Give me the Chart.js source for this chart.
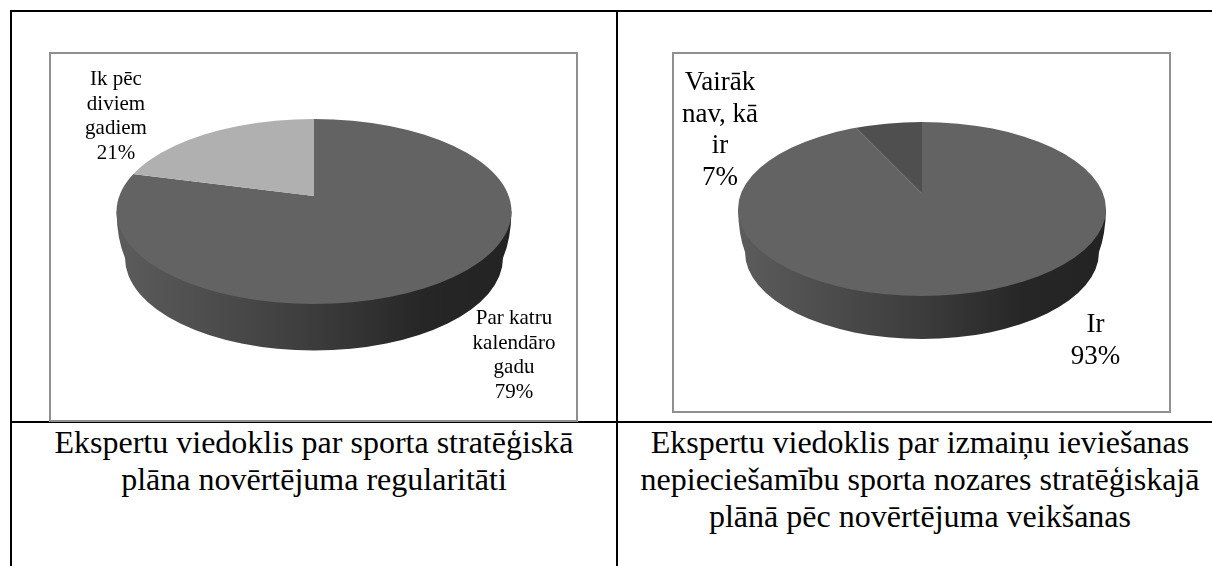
<!DOCTYPE html>
<html><head><meta charset="utf-8">
<script src="https://cdn.jsdelivr.net/npm/chart.js@4/dist/chart.umd.min.js"></script>
<style>
html,body{margin:0;padding:0;background:#fff;width:1212px;height:566px;overflow:hidden}
.line{position:absolute;background:#000}
.frame{position:absolute;box-sizing:border-box;border:2px solid #8f8f8f;background:#fff}
canvas{position:absolute;left:0;top:0}
.cap{position:absolute;text-align:center;font-family:"Liberation Serif",serif;font-size:32px;line-height:37px;color:#000;white-space:nowrap}
</style></head><body>
<div class="line" style="left:10px;top:10px;width:1202px;height:2px"></div>
<div class="line" style="left:10px;top:10px;width:2px;height:556px"></div>
<div class="line" style="left:616px;top:10px;width:2px;height:556px"></div>
<div class="line" style="left:10px;top:421px;width:1202px;height:2px"></div>
<div class="frame" id="f1" style="left:49px;top:52px;width:529px;height:370px"><canvas id="c1"></canvas></div>
<div class="frame" id="f2" style="left:672px;top:52px;width:499px;height:361px"><canvas id="c2"></canvas></div>
<div class="cap" id="t1" style="left:12px;width:604px;top:424px"></div>
<div class="cap" id="t2" style="left:618px;width:604px;top:424px"></div>
<script>
const categoriesA = ["Par katru\nkalendāro\ngadu", "Ik pēc\ndiviem\ngadiem"];
const valuesA = [79, 21];
const coloursA = ["#636363", "#b0b0b0"];
const captionA = ["Ekspertu viedoklis par sporta stratēģiskā", "plāna novērtējuma regularitāti"];

const categoriesB = ["Ir", "Vairāk\nnav, kā\nir"];
const valuesB = [93, 7];
const coloursB = ["#636363", "#4f4f4f"];
const captionB = ["Ekspertu viedoklis par izmaiņu ieviešanas", "nepieciešamību sporta nozares stratēģiskajā", "plānā pēc novērtējuma veikšanas"];

// Tilted-disc plugin: squashes the library's own arcs and adds the side wall.
const tilt = {
  id: 'tilt',
  beforeDatasetsDraw(chart, args, o) {
    const arc = chart.getDatasetMeta(0).data[0];
    const ctx = chart.ctx, ax = arc.x, ay = arc.y, cy = ay + o.dy;
    const g = ctx.createLinearGradient(ax - o.rx, 0, ax + o.rx, 0);
    g.addColorStop(0, '#5c5c5c');
    g.addColorStop(0.5, '#3c3c3c');
    g.addColorStop(0.78, '#262626');
    g.addColorStop(1, '#232323');
    ctx.save();
    ctx.fillStyle = g;
    ctx.beginPath();
    ctx.ellipse(ax, cy + o.depth, o.rxb, o.ryb, 0, 0, Math.PI);
    ctx.quadraticCurveTo(ax - o.rx + 0.5, cy + o.depth * 0.6, ax - o.rx, cy);
    ctx.lineTo(ax + o.rx, cy);
    ctx.quadraticCurveTo(ax + o.rx - 0.5, cy + o.depth * 0.6, ax + o.rxb, cy + o.depth);
    ctx.closePath();
    ctx.fill();
    ctx.restore();
    ctx.save();
    ctx.beginPath();
    ctx.ellipse(ax, cy, o.rx, o.ry, 0, 0, Math.PI * 2);
    ctx.clip();
    ctx.translate(ax, ay);
    ctx.scale(1, o.k);
    ctx.translate(-ax, -ay);
  },
  afterDatasetsDraw(chart, args, o) {
    const ctx = chart.ctx;
    ctx.restore();
    const vals = chart.data.datasets[0].data;
    const total = vals.reduce((a, b) => a + b, 0);
    ctx.save();
    ctx.fillStyle = '#000';
    ctx.font = o.font + 'px "Liberation Serif", serif';
    ctx.textAlign = 'center';
    ctx.textBaseline = 'alphabetic';
    chart.data.labels.forEach((lab, i) => {
      const lines = lab.split('\n').concat(Math.round(vals[i] / total * 100) + '%');
      lines.forEach((ln, j) => ctx.fillText(ln, o.labels[i].x, o.labels[i].y + j * o.lh));
    });
    ctx.restore();
  }
};

function make(id, frame, labels, values, colours, apexX, apexY, opts) {
  const f = document.getElementById(frame);
  const W = f.clientWidth, H = f.clientHeight;
  const c = document.getElementById(id);
  c.style.width = W + 'px'; c.style.height = H + 'px';
  c.width = W; c.height = H;
  const pad = {left: Math.max(0, 2 * apexX - W), right: Math.max(0, W - 2 * apexX),
               top: Math.max(0, 2 * apexY - H), bottom: Math.max(0, H - 2 * apexY)};
  new Chart(c, {
    type: 'pie',
    data: {labels, datasets: [{data: values, backgroundColor: colours, borderWidth: 0, clip: false}]},
    options: {
      responsive: false, animation: false, radius: 420,
      layout: {padding: pad},
      plugins: {legend: {display: false}, tooltip: {enabled: false}, tilt: opts}
    },
    plugins: [tilt]
  });
}

make('c1', 'f1', categoriesA, valuesA, coloursA, 263, 142, {
  k: 0.47, dy: 15.5, rx: 197.5, ry: 92.5, depth: 46.5, rxb: 189, ryb: 92.5, font: 21, lh: 24.7,
  labels: [{x: 463, y: 270}, {x: 65, y: 31}]
});
make('c2', 'f2', categoriesB, valuesB, coloursB, 248, 139.5, {
  k: 0.47, dy: 15.5, rx: 184, ry: 87, depth: 43, rxb: 177, ryb: 87, font: 27, lh: 31.5,
  labels: [{x: 421.5, y: 278}, {x: 46, y: 36}]
});

function caption(id, lines) {
  document.getElementById(id).innerHTML = lines.map(s => '<div>' + s + '</div>').join('');
}
caption('t1', captionA);
caption('t2', captionB);
</script>
</body></html>
